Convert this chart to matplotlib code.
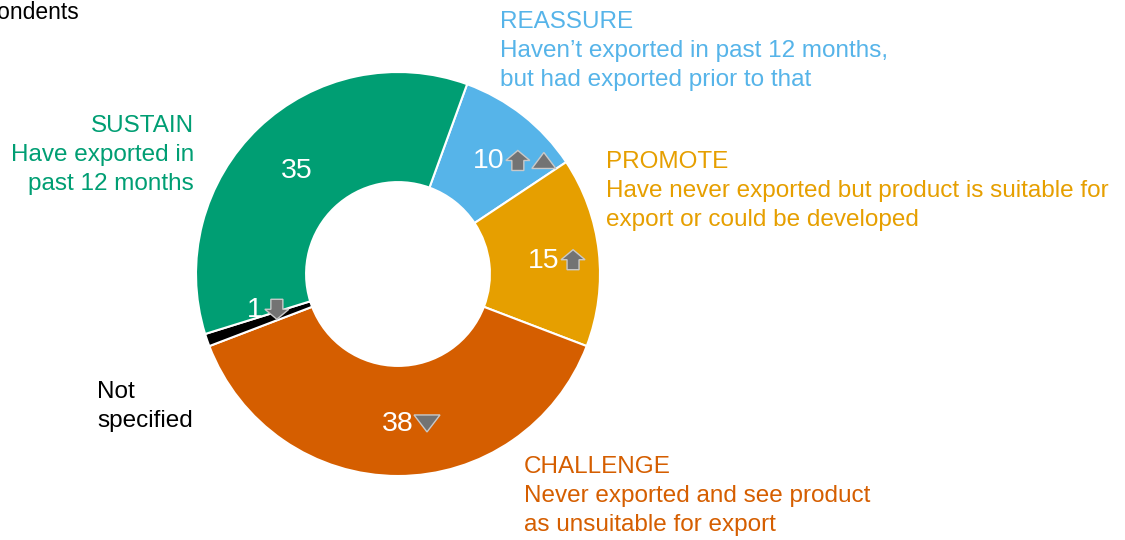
import numpy as np
import matplotlib.pyplot as plt
from matplotlib.patches import Polygon

# Export segments, clockwise from the top
segments = ["REASSURE", "PROMOTE", "CHALLENGE", "Not specified", "SUSTAIN"]
shares = [10, 15, 38, 1, 35]
colors = ["#56B4E9", "#E69F00", "#D55E00", "#000000", "#009E73"]
trends = [["up", "tri_up"], ["up"], ["tri_down"], ["down"], []]

descriptions = {
    "REASSURE": "REASSURE\nHaven\u2019t exported in past 12 months,\nbut had exported prior to that",
    "PROMOTE": "PROMOTE\nHave never exported but product is suitable for\nexport or could be developed",
    "CHALLENGE": "CHALLENGE\nNever exported and see product\nas unsuitable for export",
    "Not specified": "Not\nspecified",
    "SUSTAIN": "SUSTAIN\nHave exported in\npast 12 months",
}

plt.rcParams["font.family"] = ["Liberation Sans", "DejaVu Sans"]

W, H = 1125, 540
fig = plt.figure(figsize=(W / 100, H / 100), dpi=100)
ax = fig.add_axes([0, 0, 1, 1])

cx, cy, R = 398, H - 274, 202
hole = 0.455
wedges, _ = ax.pie(shares, colors=colors, startangle=70, counterclock=False,
                   center=(cx, cy), radius=R, frame=True,
                   wedgeprops=dict(width=R * (1 - hole), edgecolor="white", linewidth=1.5))
ax.set_xlim(0, W)
ax.set_ylim(0, H)
ax.set_aspect("equal")
ax.axis("off")

FS = 17.5
NUM_FS = 20.5
ARROW_FC, ARROW_EC = "#737373", "#c9c9c9"


def icon(kind, x, y):
    # small trend markers next to the figures
    if kind == "up":
        pts = [(-12, 0), (0, 10), (12, 0), (6, 0), (6, -10), (-6, -10), (-6, 0)]
    elif kind == "down":
        pts = [(-12, 0), (0, -10), (12, 0), (6, 0), (6, 10), (-6, 10), (-6, 0)]
    elif kind == "tri_up":
        pts = [(-12, -8), (0, 8), (12, -8)]
    else:
        pts = [(-13, 8), (0, -9), (13, 8)]
    ax.add_patch(Polygon([(x + a, y + b) for a, b in pts], closed=True,
                         facecolor=ARROW_FC, edgecolor=ARROW_EC, linewidth=1, zorder=5))


mid_r = R * (1 + hole) / 2
for w, val, marks in zip(wedges, shares, trends):
    ang = np.deg2rad((w.theta1 + w.theta2) / 2)
    if val < 5:
        ang -= np.deg2rad(6)
    tx = cx + mid_r * np.cos(ang)
    ty = cy + mid_r * np.sin(ang) - 3
    ax.text(tx, ty, str(val), color="white", fontsize=NUM_FS, ha="center", va="center", zorder=6)
    x = tx + 7 * len(str(val)) + 15
    for m in marks:
        icon(m, x, ty + 1)
        x += 26

# Segment descriptions around the ring
label_pos = {
    "REASSURE": (500, 11, "left"),
    "PROMOTE": (606, 151, "left"),
    "CHALLENGE": (524, 456, "left"),
    "Not specified": (97, 381, "left"),
    "SUSTAIN": (194, 115, "right"),
}
for seg, col in zip(segments, colors):
    x, y, ha = label_pos[seg]
    ax.text(x, H - y, descriptions[seg], color=col, fontsize=FS, ha=ha, va="top",
            linespacing=1.42, multialignment=ha)

ax.text(79, H - 13, "% of respondents", color="black", fontsize=FS - 1, ha="right", va="center")

fig.savefig("out.png", dpi=100)
